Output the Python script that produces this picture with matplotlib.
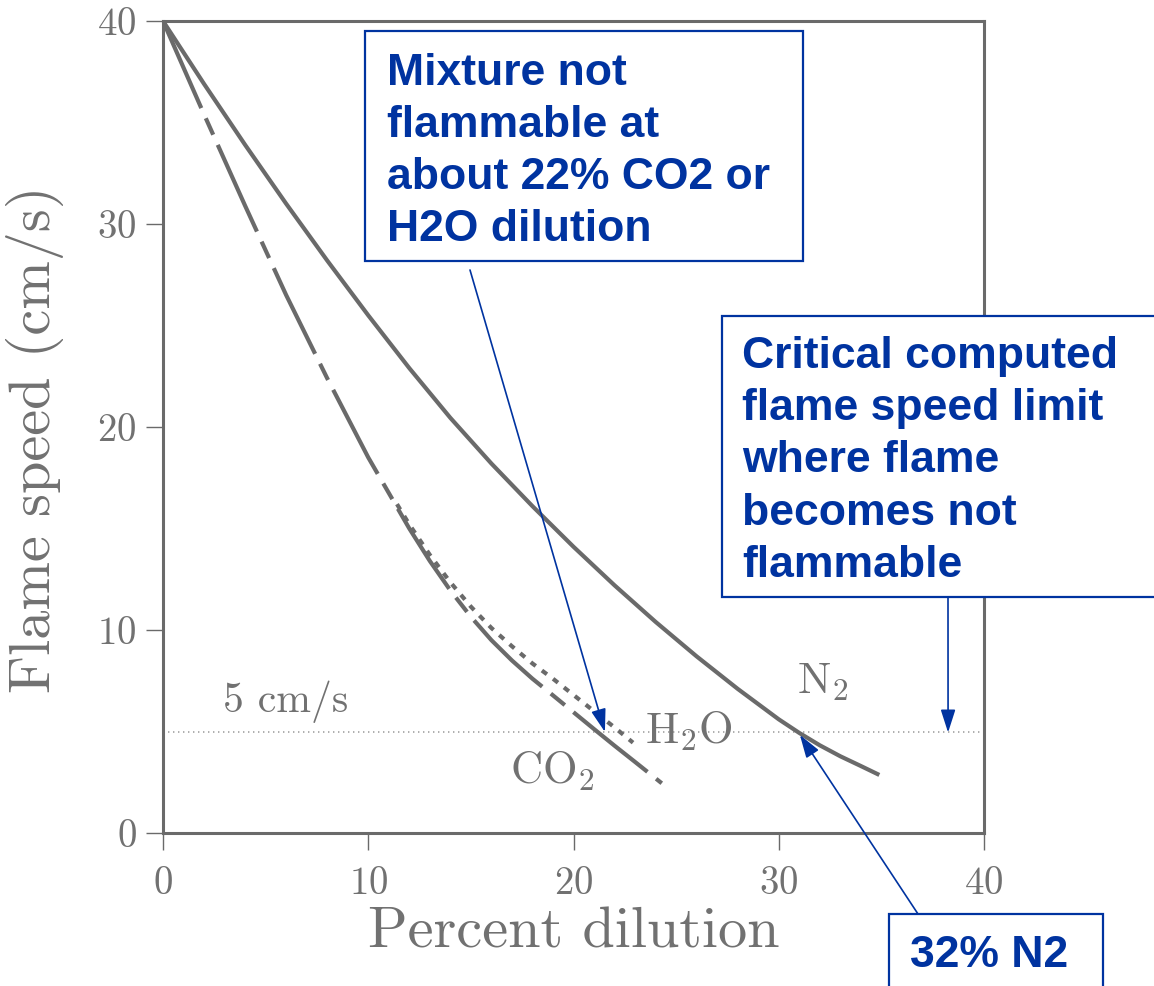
import matplotlib.pyplot as plt
from matplotlib.patches import Rectangle

# values (percent dilution, flame speed cm/s)
n2_x = [0, 2, 4, 6, 8, 10, 12, 14, 16, 18, 20, 22, 24, 26, 28, 30, 31, 32, 33, 34, 34.9]
n2_y = [40, 36.9, 33.9, 31.0, 28.2, 25.5, 22.9, 20.45, 18.2, 16.1, 14.1, 12.2, 10.4, 8.7, 7.1,
        5.6, 4.93, 4.32, 3.78, 3.3, 2.86]

co2_x = [0, 2, 4, 6, 8, 10, 12, 13, 14, 15, 16, 17, 18, 19, 20, 21, 22, 23, 24.3]
co2_y = [40, 35.4, 30.9, 26.5, 22.4, 18.5, 15.0, 13.4, 11.95, 10.65, 9.5, 8.5, 7.6, 6.78,
         5.95, 5.12, 4.3, 3.5, 2.45]

h2o_x = [11.4, 12, 13, 14, 15, 16, 17, 18, 19, 20, 21, 22, 22.9]
h2o_y = [16.2, 15.2, 13.7, 12.35, 11.15, 10.1, 9.2, 8.35, 7.6, 6.8, 6.0, 5.2, 4.45]

limit_speed = 5
ticks = [0, 10, 20, 30, 40]

# where the blue arrows point (data units)
arrow_h2o = (21.53, 4.98)
arrow_limit = (38.25, 4.95)
arrow_n2 = (31.03, 4.83)

GRAY = '#6a6a6a'
TEXT_GRAY = '#717171'
BLUE = '#0033a0'

plt.rcParams['font.family'] = 'cmr10'
plt.rcParams['mathtext.fontset'] = 'cm'
plt.rcParams['axes.formatter.use_mathtext'] = True
plt.rcParams['lines.scale_dashes'] = False

W, H = 1154, 986
fig = plt.figure(figsize=(W / 100, H / 100), dpi=100, facecolor='white')
ax = fig.add_axes([163 / W, 1 - 833 / H, 821 / W, 812 / H])

def fx(px):
    return px / W

def fy(py):
    return 1 - py / H

ax.axhline(limit_speed, color='#a8a8a8', lw=1.3, linestyle=(0, (1, 2.6)), zorder=1)
ax.plot(n2_x, n2_y, color=GRAY, lw=3, solid_capstyle='butt', zorder=2)
ax.plot(co2_x, co2_y, color=GRAY, lw=3, dashes=(68.5, 8, 13, 8), zorder=2)
ax.plot(h2o_x, h2o_y, color=GRAY, lw=3, dashes=(4.5, 5.5), zorder=2)

ax.set_xlim(0, 40)
ax.set_ylim(0, 40)
ax.set_xticks(ticks)
ax.set_yticks(ticks)
for sp in ax.spines.values():
    sp.set_color(GRAY)
    sp.set_linewidth(2.2)
ax.tick_params(direction='out', length=12, width=1, color=GRAY,
               labelsize=28, labelcolor=TEXT_GRAY)
ax.tick_params(axis='x', pad=12)
ax.tick_params(axis='y', pad=7)

ax.set_xlabel('Percent dilution', fontsize=42, color=TEXT_GRAY)
ax.xaxis.label.set_va('baseline')
ax.xaxis.set_label_coords(0.5, -0.1416)
ax.set_ylabel('Flame speed (cm/s)', fontsize=42, color=TEXT_GRAY)
ax.yaxis.label.set_va('baseline')
ax.yaxis.set_label_coords(-0.1376, 0.485)

ax.text(2.92, 5.96, '5 cm/s', fontsize=30, color=TEXT_GRAY, va='baseline')
ax.text(16.9, 2.46, r'$\mathrm{CO_2}$', fontsize=32, color=TEXT_GRAY, va='baseline')
ax.text(23.48, 4.43, r'$\mathrm{H_2O}$', fontsize=32, color=TEXT_GRAY, va='baseline')
ax.text(30.9, 6.9, r'$\mathrm{N_2}$', fontsize=32, color=TEXT_GRAY, va='baseline')

# blue call-out boxes (figure pixels from the top-left corner)
def box(x0, y0, x1, y1):
    fig.add_artist(Rectangle((fx(x0), fy(y1)), (x1 - x0) / W, (y1 - y0) / H,
                             transform=fig.transFigure, fc='white', ec=BLUE,
                             lw=1.6, zorder=5))

def note(x, y, s):
    fig.text(fx(x), fy(y), s, color=BLUE, fontsize=32, fontweight='bold',
             family='Liberation Sans', va='baseline', zorder=6)

box(365, 31, 803, 261)
for i, line in enumerate(['Mixture not', 'flammable at', 'about 22% CO2 or', 'H2O dilution']):
    note(387, 85 + 52 * i, line)

box(722, 316, 1170, 597)
for i, line in enumerate(['Critical computed', 'flame speed limit', 'where flame',
                          'becomes not', 'flammable']):
    note(742, 368 + 52.2 * i, line)

box(889, 914, 1103, 1000)
note(910, 967, '32% N2')

arrow = dict(arrowstyle='-|>,head_length=1.4,head_width=0.45', color=BLUE,
             lw=1.2, shrinkA=0, shrinkB=0)
ax.annotate('', xy=arrow_h2o, xytext=(470, H - 270), textcoords='figure pixels',
            arrowprops=arrow, annotation_clip=False)
ax.annotate('', xy=arrow_limit, xytext=(948, H - 598), textcoords='figure pixels',
            arrowprops=arrow, annotation_clip=False)
ax.annotate('', xy=arrow_n2, xytext=(918, H - 914), textcoords='figure pixels',
            arrowprops=arrow, annotation_clip=False)

fig.savefig('out.png', dpi=100, facecolor='white')
